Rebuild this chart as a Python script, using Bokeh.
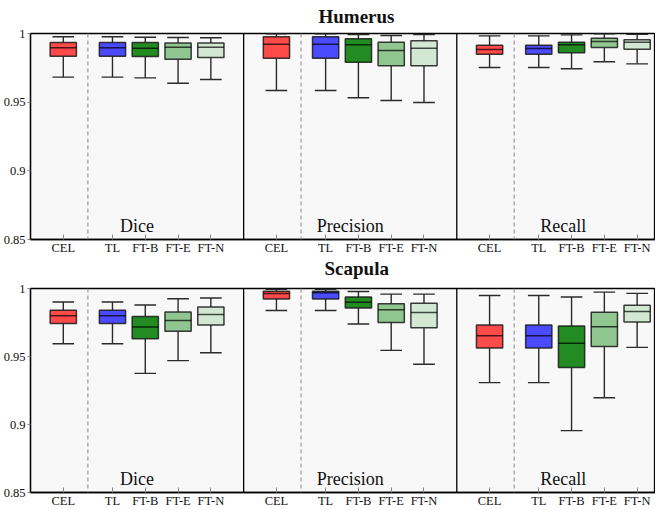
from bokeh.plotting import figure
from bokeh.models import Range1d, FixedTicker, ColumnDataSource, Span, Label, Title
from bokeh.layouts import column
from bokeh.embed import file_html
from bokeh.resources import INLINE

methods = ["CEL", "TL", "FT-B", "FT-E", "FT-N"]
metrics = ["Dice", "Precision", "Recall"]
colors = ["#ff4a4a", "#4a4aff", "#228b22", "#90c690", "#d3e8d3"]
y_ticks = [0.85, 0.9, 0.95, 1.0]
y_tick_labels = ["0.85", "0.9", "0.95", "1"]

# ---- Humerus (order of methods: CEL, TL, FT-B, FT-E, FT-N) ----
hum_dice_lo = [0.9682, 0.9682, 0.9677, 0.9638, 0.9665]
hum_dice_q1 = [0.9835, 0.9835, 0.9833, 0.9813, 0.9825]
hum_dice_med = [0.9896, 0.9896, 0.9893, 0.9900, 0.9900]
hum_dice_q3 = [0.9934, 0.9934, 0.9934, 0.9930, 0.9930]
hum_dice_hi = [0.9976, 0.9976, 0.9973, 0.9971, 0.9969]

hum_prec_lo = [0.9585, 0.9585, 0.9532, 0.9512, 0.9498]
hum_prec_q1 = [0.9820, 0.9820, 0.9791, 0.9765, 0.9765]
hum_prec_med = [0.9922, 0.9922, 0.9918, 0.9876, 0.9893]
hum_prec_q3 = [0.9976, 0.9976, 0.9961, 0.9937, 0.9947]
hum_prec_hi = [0.9998, 0.9998, 0.9993, 0.9985, 0.9993]

hum_rec_lo = [0.9752, 0.9752, 0.9743, 0.9794, 0.9779]
hum_rec_q1 = [0.9849, 0.9849, 0.9859, 0.9898, 0.9886]
hum_rec_med = [0.9884, 0.9891, 0.9918, 0.9942, 0.9937]
hum_rec_q3 = [0.9915, 0.9915, 0.9937, 0.9966, 0.9954]
hum_rec_hi = [0.9983, 0.9983, 0.9990, 0.9998, 0.9995]

# ---- Scapula ----
sca_dice_lo = [0.9594, 0.9594, 0.9376, 0.9470, 0.9528]
sca_dice_q1 = [0.9743, 0.9743, 0.9630, 0.9685, 0.9731]
sca_dice_med = [0.9799, 0.9799, 0.9717, 0.9765, 0.9808]
sca_dice_q3 = [0.9840, 0.9840, 0.9794, 0.9828, 0.9864]
sca_dice_hi = [0.9901, 0.9901, 0.9879, 0.9925, 0.9930]

sca_prec_lo = [0.9838, 0.9838, 0.9739, 0.9545, 0.9443]
sca_prec_q1 = [0.9922, 0.9922, 0.9857, 0.9750, 0.9712]
sca_prec_med = [0.9964, 0.9969, 0.9898, 0.9843, 0.9823]
sca_prec_q3 = [0.9980, 0.9980, 0.9937, 0.9888, 0.9891]
sca_prec_hi = [0.9995, 0.9995, 0.9978, 0.9959, 0.9959]

sca_rec_lo = [0.9308, 0.9308, 0.8955, 0.9197, 0.9567]
sca_rec_q1 = [0.9562, 0.9562, 0.9419, 0.9574, 0.9753]
sca_rec_med = [0.9652, 0.9652, 0.9598, 0.9719, 0.9830]
sca_rec_q3 = [0.9731, 0.9731, 0.9724, 0.9826, 0.9877]
sca_rec_hi = [0.9949, 0.9949, 0.9937, 0.9973, 0.9964]

humerus = [
    (hum_dice_lo, hum_dice_q1, hum_dice_med, hum_dice_q3, hum_dice_hi),
    (hum_prec_lo, hum_prec_q1, hum_prec_med, hum_prec_q3, hum_prec_hi),
    (hum_rec_lo, hum_rec_q1, hum_rec_med, hum_rec_q3, hum_rec_hi),
]
scapula = [
    (sca_dice_lo, sca_dice_q1, sca_dice_med, sca_dice_q3, sca_dice_hi),
    (sca_prec_lo, sca_prec_q1, sca_prec_med, sca_prec_q3, sca_prec_hi),
    (sca_rec_lo, sca_rec_q1, sca_rec_med, sca_rec_q3, sca_rec_hi),
]

# layout within a metric section (x units)
SECTION = 6.5
slot = [1.0, 2.5, 3.5, 4.5, 5.5]
BOX_W = 0.8
CAP_W = 0.66
FONT = "Liberation Serif"


def make_panel(stats, height, top_border, bottom_border):
    p = figure(width=655, height=height, x_range=Range1d(0, 19.06),
               y_range=Range1d(0.85, 1.0), output_backend="svg",
               toolbar_location=None, min_border_left=28, min_border_right=0,
               min_border_top=top_border, min_border_bottom=bottom_border)
    p.background_fill_color = "#f8f8f8"
    p.border_fill_color = "white"
    p.outline_line_color = "black"
    p.outline_line_width = 1.3
    p.xgrid.visible = False
    p.ygrid.visible = False

    xs, lo, q1, med, q3, hi, col = [], [], [], [], [], [], []
    for k, st in enumerate(stats):
        for j in range(5):
            xs.append(k * SECTION + slot[j])
            lo.append(st[0][j]); q1.append(st[1][j]); med.append(st[2][j])
            q3.append(st[3][j]); hi.append(st[4][j]); col.append(colors[j])
    src = ColumnDataSource(dict(
        x=xs, lo=lo, q1=q1, med=med, q3=q3, hi=hi, color=col,
        cl=[x - CAP_W / 2 for x in xs], cr=[x + CAP_W / 2 for x in xs],
        bl=[x - BOX_W / 2 for x in xs], br=[x + BOX_W / 2 for x in xs]))

    # separators
    for k in range(1, 3):
        p.add_layout(Span(location=k * SECTION, dimension="height",
                          line_color="black", line_width=1.3))
    for k in range(3):
        p.add_layout(Span(location=k * SECTION + (slot[0] + slot[1]) / 2,
                          dimension="height", line_color="#9a9a9a",
                          line_width=1.2, line_dash="4 3"))

    wc = "#2a2a2a"
    p.segment(x0="x", y0="lo", x1="x", y1="q1", source=src, line_color=wc, line_width=1.4)
    p.segment(x0="x", y0="q3", x1="x", y1="hi", source=src, line_color=wc, line_width=1.4)
    p.segment(x0="cl", y0="lo", x1="cr", y1="lo", source=src, line_color=wc, line_width=1.4)
    p.segment(x0="cl", y0="hi", x1="cr", y1="hi", source=src, line_color=wc, line_width=1.4)
    p.vbar(x="x", width=BOX_W, bottom="q1", top="q3", source=src,
           fill_color="color", line_color="#1a1a1a", line_alpha=0.85, line_width=1.5)
    p.segment(x0="bl", y0="med", x1="br", y1="med", source=src,
              line_color="black", line_alpha=0.7, line_width=1.5)

    for k, name in enumerate(metrics):
        p.add_layout(Label(x=k * SECTION + SECTION / 2, y=0.86, text=name,
                           text_align="center", text_baseline="alphabetic",
                           text_font=FONT, text_font_size="18px", text_color="#111111"))

    p.xaxis.ticker = FixedTicker(ticks=xs)
    p.xaxis.major_label_overrides = {x: methods[i % 5] for i, x in enumerate(xs)}
    p.xaxis.major_tick_in = 5
    p.xaxis.major_tick_out = 0
    p.xaxis.minor_tick_line_color = None
    p.xaxis.major_tick_line_color = "#888888"
    p.xaxis.major_label_standoff = 1

    p.yaxis.ticker = FixedTicker(ticks=y_ticks)
    p.yaxis.major_label_overrides = {t: s for t, s in zip(y_ticks, y_tick_labels)}
    p.yaxis.major_tick_in = 0
    p.yaxis.major_tick_out = 3
    p.yaxis.minor_tick_line_color = None
    p.yaxis.major_tick_line_color = "#888888"
    p.yaxis.major_label_standoff = 2

    for ax in (p.xaxis, p.yaxis):
        ax.axis_line_color = "black"
        ax.axis_line_width = 1.3
        ax.major_label_text_font = FONT
        ax.major_label_text_font_size = "12.5px"
        ax.major_label_text_color = "#111111"
    return p


def make_title(text, offset, valign, standoff):
    return Title(text=text, align="left", offset=offset, vertical_align=valign,
                 standoff=standoff, text_font=FONT, text_font_style="bold",
                 text_font_size="19px", text_color="#111111")


p1 = make_panel(humerus, 280, 33, 41)
p1.add_layout(make_title("Humerus", 288, "top", 9), "above")
p1.add_layout(make_title("Scapula", 294, "top", 0), "below")
p2 = make_panel(scapula, 230, 8, 15)
p = column(p1, p2)
open("out.html", "w").write(file_html(p, INLINE))
